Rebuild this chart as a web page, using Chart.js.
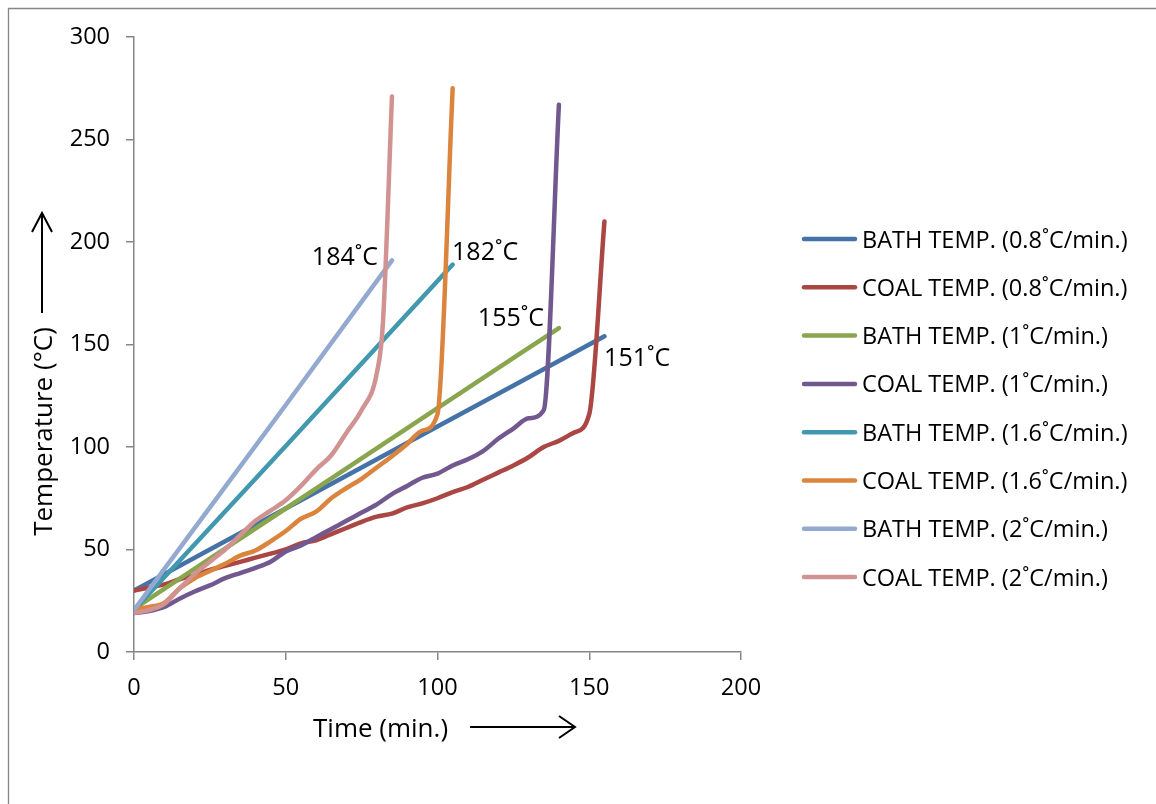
<!DOCTYPE html>
<html>
<head>
<meta charset="utf-8">
<script src="https://cdn.jsdelivr.net/npm/chart.js@4.4.1/dist/chart.umd.min.js"></script>
<style>
  html, body { margin: 0; padding: 0; background: #ffffff; }
  #wrap { width: 1156px; height: 804px; }
</style>
</head>
<body>
<div id="wrap"><canvas id="c" width="1156" height="804"></canvas></div>
<script>
// ---- Data (time in min., temperature in °C) ----
const seriesLabels = [
  'BATH TEMP. (0.8˚C/min.)',
  'COAL TEMP. (0.8˚C/min.)',
  'BATH TEMP. (1˚C/min.)',
  'COAL TEMP. (1˚C/min.)',
  'BATH TEMP. (1.6˚C/min.)',
  'COAL TEMP. (1.6˚C/min.)',
  'BATH TEMP. (2˚C/min.)',
  'COAL TEMP. (2˚C/min.)'
];
const seriesColors = ['#4572A7', '#AA4643', '#89A54E', '#71588F', '#4198AF', '#DB843D', '#93A9CF', '#D19392'];

const timeBath08 = [0, 50, 100, 155];
const tempBath08 = [30, 70, 110, 154];

const timeCoal08 = [0, 5, 10, 15, 20, 25, 30, 35, 40, 45, 50, 55, 60, 65, 70, 75, 80, 85, 90, 95, 100, 105, 110, 115, 120, 125, 130, 135, 140, 145, 150, 155];
const tempCoal08 = [30, 31.5, 33, 35.5, 37.5, 40, 42, 44, 46, 48, 50, 53, 54.5, 57.5, 60.5, 63.5, 66, 67.5, 70.5, 72.5, 75, 78, 80.5, 84, 87.5, 91, 95, 100, 103, 107, 116, 210];

const timeBath1 = [0, 50, 100, 140];
const tempBath1 = [21, 70, 119, 158];

const timeCoal1 = [0, 5, 10, 15, 20, 25, 30, 35, 40, 45, 50, 55, 60, 65, 70, 75, 80, 85, 90, 95, 100, 105, 110, 115, 120, 125, 130, 135, 140];
const tempCoal1 = [19, 20, 22, 26, 29.5, 32.5, 36, 38.5, 41, 44, 49, 52, 56, 60, 64, 68, 72, 77, 81, 85, 87, 91, 94, 98, 104, 109, 114, 118, 267];

const timeBath16 = [0, 50, 105];
const tempBath16 = [20.5, 100.5, 189];

const timeCoal16 = [0, 5, 10, 15, 20, 25, 30, 35, 40, 45, 50, 55, 60, 65, 70, 75, 80, 85, 90, 95, 100, 105];
const tempCoal16 = [21, 22, 24, 31, 36, 39.5, 43, 47, 49.5, 54, 59, 65, 68.5, 75, 80, 84.5, 90, 95.5, 101.5, 108, 116, 275];

const timeBath2 = [0, 50, 85];
const tempBath2 = [20.5, 120.5, 191];

const timeCoal2 = [0, 5, 10, 15, 20, 25, 30, 35, 40, 45, 50, 55, 60, 65, 70, 75, 80, 82, 85];
const tempCoal2 = [19, 20.5, 23.5, 31, 38, 44, 50, 57, 64, 69, 74, 81, 89, 96, 107, 118, 136, 160, 271];

// Axis ticks
const xTickMin = 0, xTickMax = 200, xTickStep = 50;
const yTickMin = 0, yTickMax = 300, yTickStep = 50;

// Titles and annotations (annotation anchors in data coordinates)
const xTitle = 'Time (min.)';
const yTitle = 'Temperature (°C)';
const annoTexts = ['184˚C', '182˚C', '155˚C', '151˚C'];
const annoTime  = [58.6, 104.8, 113.3, 154.9];
const annoTemp  = [189, 191, 159, 139.5];

// ---- Build datasets ----
const seriesTimes = [timeBath08, timeCoal08, timeBath1, timeCoal1, timeBath16, timeCoal16, timeBath2, timeCoal2];
const seriesTemps = [tempBath08, tempCoal08, tempBath1, tempCoal1, tempBath16, tempCoal16, tempBath2, tempCoal2];

const datasets = seriesLabels.map((lab, i) => ({
  label: lab,
  data: seriesTimes[i].map((t, k) => ({ x: t, y: seriesTemps[i][k] })),
  borderColor: seriesColors[i],
  backgroundColor: seriesColors[i],
  borderWidth: 4.5,
  pointRadius: 0,
  pointHoverRadius: 0,
  fill: false,
  tension: 0.4,
  cubicInterpolationMode: 'monotone',
  borderCapStyle: 'round',
  borderJoinStyle: 'round',
  order: seriesLabels.length - 1 - i
}));

const FONT = 'Open Sans';
const AXIS_COLOR = '#868686';

const decor = {
  id: 'decor',
  afterDraw(chart) {
    const ctx = chart.ctx;
    const xs = chart.scales.x, ys = chart.scales.y;
    ctx.save();

    // outer frame (left and top edges visible)
    ctx.strokeStyle = AXIS_COLOR;
    ctx.lineWidth = 1.3;
    ctx.beginPath();
    ctx.moveTo(8.5, 804);
    ctx.lineTo(8.5, 8.5);
    ctx.lineTo(1156, 8.5);
    ctx.stroke();

    ctx.fillStyle = '#000';
    ctx.strokeStyle = '#000';

    // x title + arrow
    ctx.font = '26px "' + FONT + '"';
    ctx.textAlign = 'left';
    ctx.textBaseline = 'alphabetic';
    ctx.fillText(xTitle, 313, 737);
    ctx.lineWidth = 2;
    ctx.beginPath();
    ctx.moveTo(470, 727); ctx.lineTo(575, 727);
    ctx.moveTo(559, 716); ctx.lineTo(575, 727); ctx.lineTo(559, 738);
    ctx.stroke();

    // y title + arrow
    ctx.save();
    ctx.translate(52, 431.5);
    ctx.rotate(-Math.PI / 2);
    ctx.textAlign = 'center';
    ctx.fillText(yTitle, 0, 0);
    ctx.restore();
    ctx.beginPath();
    ctx.moveTo(42, 313); ctx.lineTo(42, 213);
    ctx.moveTo(32, 232); ctx.lineTo(42, 213); ctx.lineTo(52, 232);
    ctx.stroke();

    // annotations
    ctx.font = '25px "' + FONT + '"';
    ctx.textAlign = 'left';
    annoTexts.forEach((t, i) => {
      ctx.fillText(t, xs.getPixelForValue(annoTime[i]), ys.getPixelForValue(annoTemp[i]));
    });

    // legend
    ctx.font = '23.5px "' + FONT + '"';
    chart.data.datasets.forEach((ds, i) => {
      const y = 239 + i * 48.3;
      ctx.strokeStyle = ds.borderColor;
      ctx.lineWidth = 4.5;
      ctx.lineCap = 'round';
      ctx.beginPath();
      ctx.moveTo(804, y); ctx.lineTo(855, y);
      ctx.stroke();
      ctx.fillStyle = '#000';
      ctx.fillText(ds.label, 862, y + 8.5);
    });

    ctx.restore();
  }
};

new Chart(document.getElementById('c'), {
  type: 'line',
  data: { datasets },
  options: {
    responsive: false,
    animation: false,
    events: [],
    layout: { padding: { left: 0, top: 37, right: 415, bottom: 0 } },
    plugins: {
      legend: { display: false },
      tooltip: { enabled: false },
      title: { display: false }
    },
    scales: {
      x: {
        type: 'linear',
        min: xTickMin, max: xTickMax,
        ticks: { stepSize: xTickStep, color: '#000', font: { family: FONT, size: 23.5 }, padding: 14, maxRotation: 0 },
        grid: { drawOnChartArea: false, drawTicks: true, tickLength: 8, color: AXIS_COLOR, lineWidth: 1.5 },
        border: { display: true, color: AXIS_COLOR, width: 1.5 },
        afterFit(scale) { scale.height = 152; }
      },
      y: {
        type: 'linear',
        min: yTickMin, max: yTickMax,
        ticks: { stepSize: yTickStep, color: '#000', font: { family: FONT, size: 23.5 }, padding: 16 },
        grid: { drawOnChartArea: false, drawTicks: true, tickLength: 8, color: AXIS_COLOR, lineWidth: 1.5 },
        border: { display: true, color: AXIS_COLOR, width: 1.5 },
        afterFit(scale) { scale.width = 134; }
      }
    }
  },
  plugins: [decor]
});
</script>
</body>
</html>
